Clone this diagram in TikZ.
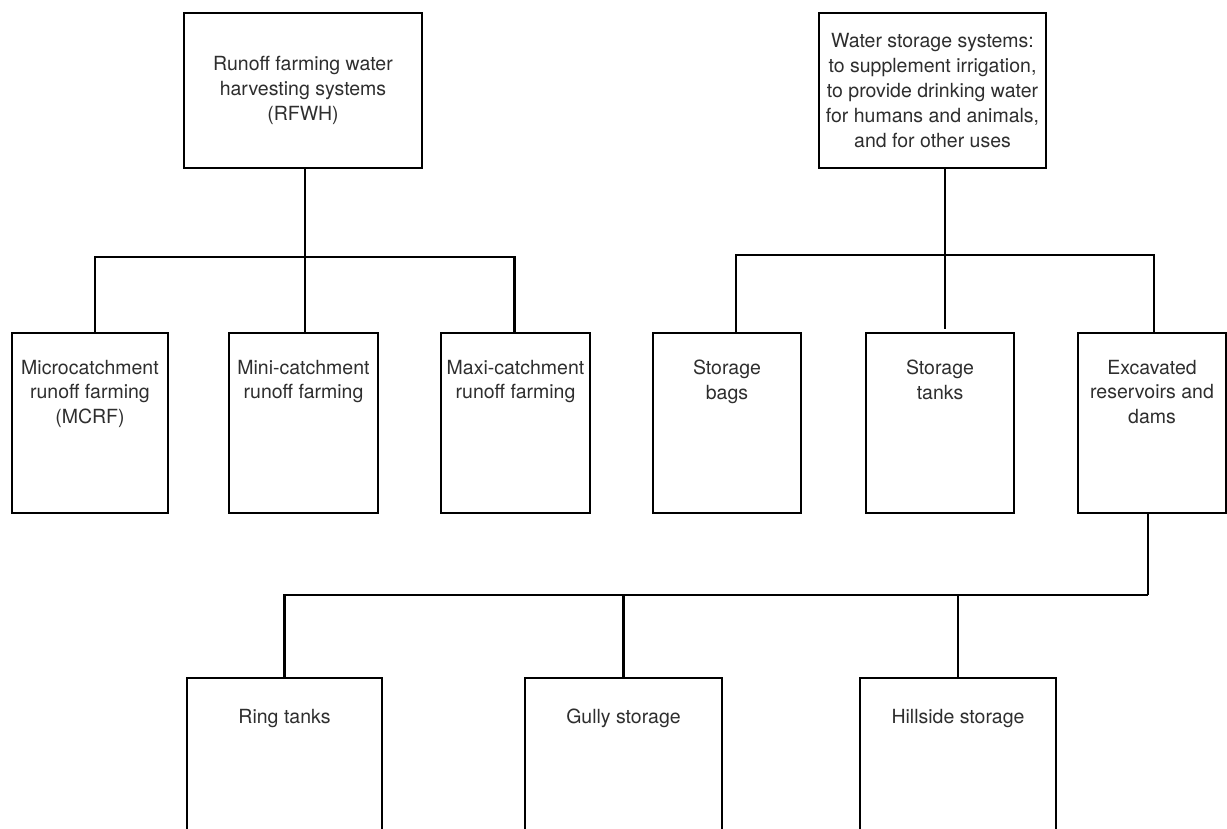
\documentclass[tikz,border=0pt]{standalone}
\usepackage{fontspec}
\setmainfont{TeX Gyre Heros}
\begin{document}
\begin{tikzpicture}[x=1pt,y=-1pt,
  box/.style={draw, line width=2.6pt, rectangle, inner sep=0pt},
  lbl/.style={align=center, font=\fontsize{19.5}{24.8}\selectfont, text=black!82, inner sep=0pt},
  conn/.style={line width=2.6pt}]
\useasboundingbox (0,0) rectangle (1227,828);
\clip (0,0) rectangle (1227,828);
\fill[white] (0,0) rectangle (1227,828);

% top level
\node[box, lbl, minimum width=238pt, minimum height=155pt] (A) at (303,90.5)
  {Runoff farming water\\harvesting systems\\(RFWH)};
\node[box, lbl, minimum width=227pt, minimum height=155pt] (B) at (932.5,90.5)
  {Water storage systems:\\to supplement irrigation,\\to provide drinking water\\for humans and animals,\\and for other uses};

% second level boxes
\node[box, minimum width=156pt, minimum height=180pt] (C1) at (90,423) {};
\node[box, minimum width=149pt, minimum height=180pt] (C2) at (303.5,423) {};
\node[box, minimum width=149pt, minimum height=180pt] (C3) at (515.5,423) {};
\node[box, minimum width=148pt, minimum height=180pt] (D1) at (727,423) {};
\node[box, minimum width=148pt, minimum height=180pt] (D2) at (940,423) {};
\node[box, minimum width=148pt, minimum height=180pt] (D3) at (1152,423) {};

\node[lbl, anchor=north] (C1t) at ([yshift=-28pt]C1.north) {Microcatchment\\runoff farming\\(MCRF)};
\node[lbl, anchor=north] (C2t) at ([yshift=-28pt]C2.north) {Mini-catchment\\runoff farming};
\node[lbl, anchor=north] (C3t) at ([yshift=-28pt]C3.north) {Maxi-catchment\\runoff farming};
\node[lbl, anchor=north] (D1t) at ([yshift=-28pt]D1.north) {Storage\\bags};
\node[lbl, anchor=north] (D2t) at ([yshift=-28pt]D2.north) {Storage\\tanks};
\node[lbl, anchor=north] (D3t) at ([yshift=-28pt]D3.north) {Excavated\\reservoirs and\\dams};

% third level boxes
\node[box, minimum width=195pt, minimum height=182pt] (R) at (284.5,769) {};
\node[box, minimum width=197pt, minimum height=182pt] (G) at (623.5,769) {};
\node[box, minimum width=196pt, minimum height=182pt] (H) at (958,769) {};

\node[lbl, anchor=north] (Rt) at ([yshift=-32pt]R.north) {Ring tanks};
\node[lbl, anchor=north] (Gt) at ([yshift=-32pt]G.north) {Gully storage};
\node[lbl, anchor=north] (Ht) at ([yshift=-32pt]H.north) {Hillside storage};

% junctions
\coordinate (j1) at (305,257);
\coordinate (j2) at (945,255);
\coordinate (j3) at (1148,595);

% connectors left tree
\draw[conn] (A.south -| j1) -- (j1);
\draw[conn] ([xshift=5pt]C1.north) |- (j1) -| ([xshift=-1pt]C3.north);
\draw[conn] (j1) -- (C2.north -| j1);

% connectors right tree
\draw[conn] (B.south -| j2) -- (j2);
\draw[conn] ([xshift=9pt]D1.north) |- (j2) -| ([xshift=2pt]D3.north);
\draw[conn] (j2) -- ([yshift=3pt]D2.north -| j2);

% connectors third level
\draw[conn] ([xshift=-4pt]D3.south) -- (j3);
\draw[conn] (R.north) |- (j3);
\draw[conn] (G.north) -- (G.north |- j3);
\draw[conn] (H.north) -- (H.north |- j3);
\end{tikzpicture}
\end{document}
